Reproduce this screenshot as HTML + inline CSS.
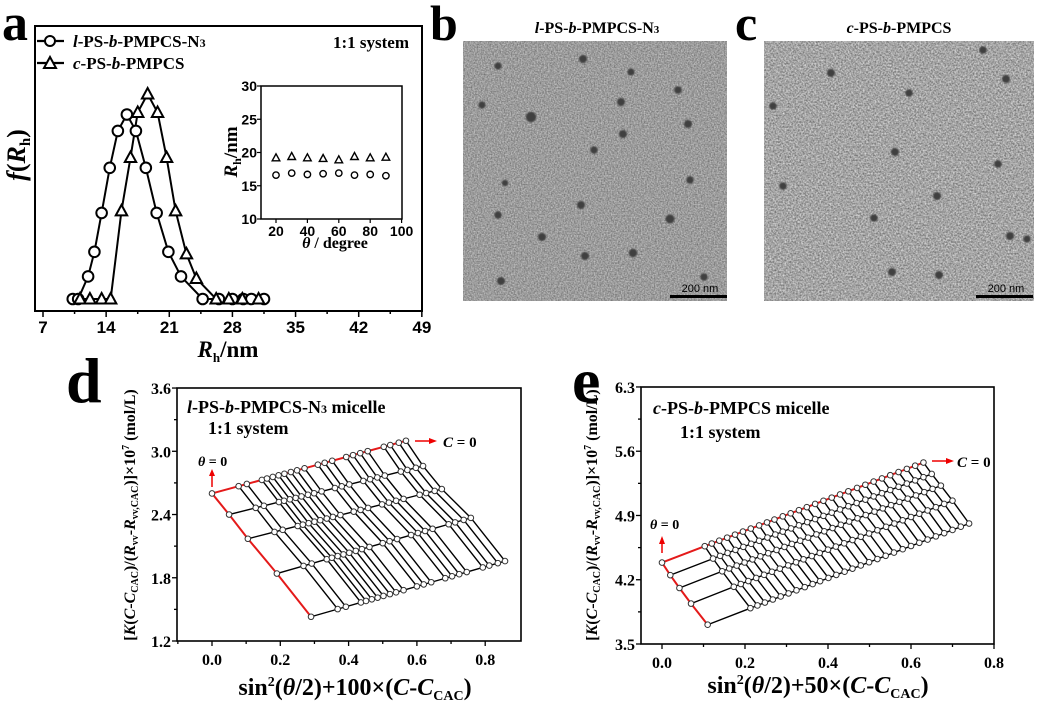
<!DOCTYPE html>
<html><head><meta charset="utf-8"><style>
html,body{margin:0;padding:0;background:#fff;}
svg{display:block;font-family:"Liberation Serif",serif;}
.sans{font-family:"Liberation Sans",sans-serif;}
</style></head><body>
<svg id="fig" width="1040" height="706" viewBox="0 0 1040 706" xmlns="http://www.w3.org/2000/svg">
<defs>
<filter id="noise" x="0" y="0" width="100%" height="100%" color-interpolation-filters="sRGB">
<feTurbulence type="fractalNoise" baseFrequency="0.7" numOctaves="2" seed="3"/>
<feColorMatrix type="matrix" values="0.5 0 0 0 0.36  0.5 0 0 0 0.36  0.5 0 0 0 0.36  0 0 0 0 1"/>
</filter>
<filter id="noise2" x="0" y="0" width="100%" height="100%" color-interpolation-filters="sRGB">
<feTurbulence type="fractalNoise" baseFrequency="0.6" numOctaves="2" seed="7"/>
<feColorMatrix type="matrix" values="0.65 0 0 0 0.32  0.65 0 0 0 0.32  0.65 0 0 0 0.32  0 0 0 0 1"/>
</filter>
<filter id="soft"><feGaussianBlur stdDeviation="0.7"/></filter>
</defs>

<!-- Panel a static -->
<text x="2" y="40" font-size="52" font-weight="bold">a</text>
<rect x="35" y="26" width="387" height="285" fill="none" stroke="#000" stroke-width="2"/>
<g>
<line x1="37" y1="41" x2="64" y2="41" stroke="#000" stroke-width="2.2"/>
<circle cx="50" cy="41" r="5" fill="#fff" stroke="#000" stroke-width="2"/>
<text x="73" y="47" font-size="17" font-weight="bold"><tspan font-style="italic">l</tspan>-PS-<tspan font-style="italic">b</tspan>-PMPCS-N<tspan font-size="12">3</tspan></text>
<line x1="37" y1="63" x2="64" y2="63" stroke="#000" stroke-width="2.2"/>
<path d="M50 57 L56 68 L44 68 Z" fill="#fff" stroke="#000" stroke-width="2"/>
<text x="73" y="69" font-size="17" font-weight="bold"><tspan font-style="italic">c</tspan>-PS-<tspan font-style="italic">b</tspan>-PMPCS</text>
</g>
<text x="409" y="48" text-anchor="end" font-size="17" font-weight="bold">1:1 system</text>
<text transform="translate(25,155) rotate(-90)" text-anchor="middle" font-size="26" font-weight="bold"><tspan font-style="italic">f</tspan>(<tspan font-style="italic">R</tspan><tspan font-size="15" dy="5">h</tspan><tspan dy="-5">)</tspan></text>
<text x="228" y="357" text-anchor="middle" font-size="23" font-weight="bold"><tspan font-style="italic">R</tspan><tspan font-size="13" dy="5">h</tspan><tspan dy="-5">/nm</tspan></text>
<rect x="261" y="86" width="141" height="133" fill="#fff" stroke="#000" stroke-width="1.5"/>
<text transform="translate(237,152) rotate(-90)" text-anchor="middle" font-size="19" font-weight="bold"><tspan font-style="italic">R</tspan><tspan font-size="12" dy="4">h</tspan><tspan dy="-4">/nm</tspan></text>
<text x="335" y="248" text-anchor="middle" font-size="16" font-weight="bold"><tspan font-style="italic">θ</tspan> / degree</text>
<g id="pa"></g>

<!-- Panels b, c -->
<text x="430" y="40" font-size="50" font-weight="bold">b</text>
<text x="735" y="40" font-size="50" font-weight="bold">c</text>
<text x="597" y="33" text-anchor="middle" font-size="16" font-weight="bold"><tspan font-style="italic">l</tspan>-PS-<tspan font-style="italic">b</tspan>-PMPCS-N<tspan font-size="11">3</tspan></text>
<text x="899" y="33" text-anchor="middle" font-size="16" font-weight="bold"><tspan font-style="italic">c</tspan>-PS-<tspan font-style="italic">b</tspan>-PMPCS</text>
<rect x="463" y="41" width="264" height="260" filter="url(#noise)"/>
<rect x="764" y="41" width="270" height="260" filter="url(#noise2)"/>
<g id="pb" filter="url(#soft)"></g>
<g id="pc" filter="url(#soft)"></g>
<rect x="670" y="295" width="57" height="3" fill="#000"/>
<text x="700" y="292" text-anchor="middle" class="sans" font-size="11">200 nm</text>
<rect x="976" y="295" width="57" height="3" fill="#000"/>
<text x="1006" y="292" text-anchor="middle" class="sans" font-size="11">200 nm</text>

<!-- Panel d -->
<text x="66" y="402" font-size="64" font-weight="bold">d</text>
<rect x="177" y="388" width="344" height="253" fill="none" stroke="#000" stroke-width="1.6"/>
<text x="187" y="413" font-size="18" font-weight="bold"><tspan font-style="italic">l</tspan>-PS-<tspan font-style="italic">b</tspan>-PMPCS-N<tspan font-size="12">3</tspan> micelle</text>
<text x="208" y="434" font-size="18" font-weight="bold">1:1 system</text>
<text transform="translate(135,515) rotate(-90)" text-anchor="middle" font-size="16" font-weight="bold">[<tspan font-style="italic">K</tspan>(<tspan font-style="italic">C</tspan>-<tspan font-style="italic">C</tspan><tspan font-size="10" dy="3">CAC</tspan><tspan dy="-3">)/(</tspan><tspan font-style="italic">R</tspan><tspan font-size="10" dy="3">vv</tspan><tspan dy="-3">-</tspan><tspan font-style="italic">R</tspan><tspan font-size="10" dy="3">vv,CAC</tspan><tspan dy="-3">)]×10</tspan><tspan font-size="10" dy="-6">7</tspan><tspan dy="6"> (mol/L)</tspan></text>
<text x="355" y="695" text-anchor="middle" font-size="24" font-weight="bold">sin<tspan font-size="14" dy="-9">2</tspan><tspan dy="9">(</tspan><tspan font-style="italic">θ</tspan>/2)+100×(<tspan font-style="italic">C</tspan>-<tspan font-style="italic">C</tspan><tspan font-size="14" dy="5">CAC</tspan><tspan dy="-5">)</tspan></text>
<g id="pd"></g>
<g>
<text x="198" y="466" font-size="14" font-weight="bold" font-style="italic">θ <tspan font-style="normal">= 0</tspan></text>
<line x1="212" y1="487" x2="212" y2="475" stroke="#e00" stroke-width="1.5"/><path d="M209 476 L212 469 L215 476 Z" fill="#e00"/>
<line x1="415" y1="441" x2="430" y2="441" stroke="#e00" stroke-width="1.5"/><path d="M429 438 L437 441 L429 444 Z" fill="#e00"/>
<text x="443" y="447" font-size="15" font-weight="bold"><tspan font-style="italic">C</tspan> = 0</text>
</g>

<!-- Panel e -->
<text x="572" y="402" font-size="64" font-weight="bold">e</text>
<rect x="641" y="387" width="353" height="257" fill="none" stroke="#000" stroke-width="1.6"/>
<text x="653" y="414" font-size="18" font-weight="bold"><tspan font-style="italic">c</tspan>-PS-<tspan font-style="italic">b</tspan>-PMPCS micelle</text>
<text x="680" y="438" font-size="18" font-weight="bold">1:1 system</text>
<text transform="translate(597,515) rotate(-90)" text-anchor="middle" font-size="16" font-weight="bold">[<tspan font-style="italic">K</tspan>(<tspan font-style="italic">C</tspan>-<tspan font-style="italic">C</tspan><tspan font-size="10" dy="3">CAC</tspan><tspan dy="-3">)/(</tspan><tspan font-style="italic">R</tspan><tspan font-size="10" dy="3">vv</tspan><tspan dy="-3">-</tspan><tspan font-style="italic">R</tspan><tspan font-size="10" dy="3">vv,CAC</tspan><tspan dy="-3">)]×10</tspan><tspan font-size="10" dy="-6">7</tspan><tspan dy="6"> (mol/L)</tspan></text>
<text x="818" y="693" text-anchor="middle" font-size="24" font-weight="bold">sin<tspan font-size="14" dy="-9">2</tspan><tspan dy="9">(</tspan><tspan font-style="italic">θ</tspan>/2)+50×(<tspan font-style="italic">C</tspan>-<tspan font-style="italic">C</tspan><tspan font-size="14" dy="5">CAC</tspan><tspan dy="-5">)</tspan></text>
<g id="pe"></g>
<g>
<text x="650" y="529" font-size="14" font-weight="bold" font-style="italic">θ <tspan font-style="normal">= 0</tspan></text>
<line x1="662" y1="553" x2="662" y2="543" stroke="#e00" stroke-width="1.5"/><path d="M659 544 L662 536 L665 544 Z" fill="#e00"/>
<line x1="932" y1="461" x2="947" y2="461" stroke="#e00" stroke-width="1.5"/><path d="M946 458 L954 461 L946 464 Z" fill="#e00"/>
<text x="957" y="467" font-size="15" font-weight="bold"><tspan font-style="italic">C</tspan> = 0</text>
</g>
</svg>
<script>
// ---- Panel a data ----
const aCircleX = [10.3,10.9,12.0,12.7,13.5,14.4,15.3,16.3,17.3,18.4,19.6,20.9,22.3,24.7,26.5,28.0,29.2,30.1,31.5];
const aCircleF = [0,0,0.11,0.23,0.42,0.64,0.82,0.90,0.82,0.64,0.42,0.23,0.11,0,0,0,0,0,0];
const aTriX = [11.1,12.2,13.5,14.5,15.7,16.7,17.5,18.6,19.7,20.7,21.7,22.9,24.0,26.2,27.6,29.1,30.9];
const aTriF = [0,0,0,0,0.43,0.69,0.91,1.0,0.91,0.69,0.43,0.22,0.10,0,0,0,0];
const aXTicks = [7,14,21,28,35,42,49];
const insetAngles = [20,30,40,50,60,70,80,90];
const insetTri = [19.2,19.4,19.2,19.1,18.9,19.4,19.2,19.3];
const insetCirc = [16.6,16.9,16.7,16.8,16.9,16.6,16.7,16.5];
const insetXTicks = [20,40,60,80,100];
const insetYTicks = [10,15,20,25,30];
// ---- TEM particle positions ----
const temB = [[498,66],[583,59],[631,72],[678,90],[482,105],[621,102],[531,117],[688,124],[623,134],[594,150],[505,183],[690,180],[581,205],[498,215],[670,219],[542,237],[585,256],[633,253],[501,281],[704,277]];
const temBr = [3.6,4,3.6,3.8,3.6,4,5.2,4,4,3.7,3.2,3.7,4,3.7,4.5,4,4,4.2,4,3.8];
const temC = [[983,50],[831,73],[1006,79],[909,93],[773,106],[895,152],[998,164],[783,186],[937,196],[874,218],[1010,236],[1027,239],[892,272],[939,275]];
const temCr = [3.8,4,4,3.8,3.8,4,3.8,3.8,4,3.8,4,3.6,4,4];
// ---- Panel d data (Zimm plot) ----
const dSinSq = [0.078,0.102,0.146,0.161,0.178,0.195,0.212,0.231,0.249,0.271,0.310,0.330,0.352,0.393,0.413,0.434,0.456,0.503,0.522,0.547,0.568];
const dConcX = [0,0.05,0.105,0.19,0.29];
const dIntercept = [2.6,2.4,2.17,1.84,1.43];
const dSlope = [0.88,0.81,0.83,0.93,0.93];
const dXTicks = [0.0,0.2,0.4,0.6,0.8];
const dYTicks = [1.2,1.8,2.4,3.0,3.6];
// ---- Panel e data ----
const eSinSq = [0.103,0.120,0.138,0.157,0.176,0.195,0.214,0.234,0.253,0.271,0.291,0.310,0.330,0.349,0.369,0.389,0.409,0.429,0.449,0.470,0.490,0.510,0.530,0.550,0.570,0.590,0.610,0.630];
const eConcX = [0,0.02,0.042,0.07,0.11];
const eIntercept = [4.387,4.25,4.11,3.94,3.71];
const eSlope = [1.73,1.75,1.77,1.78,1.75];
const eXTicks = [0.0,0.2,0.4,0.6,0.8];
const eYTicks = [3.5,4.2,4.9,5.6,6.3];

const NS = "http://www.w3.org/2000/svg";
function mk(parent, tag, attrs, text){
  const e = document.createElementNS(NS, tag);
  for (const k in attrs) e.setAttribute(k, attrs[k]);
  if (text !== undefined) e.textContent = text;
  parent.appendChild(e); return e;
}
function tri(cx, cy, s){ return `M${cx} ${cy-s} L${cx+s*0.95} ${cy+s*0.75} L${cx-s*0.95} ${cy+s*0.75} Z`; }

// Panel a
const pa = document.getElementById('pa');
const ax = v => 43 + (v-7)*9.02, ay = f => 299 - f*205;
for (let v=7; v<=49; v+=3.5){
  const t = mk(pa,'line',{x1:ax(v),y1:311,x2:ax(v),y2:aXTicks.includes(v)?317:314,stroke:'#000','stroke-width':1.5});
  
  
}
aXTicks.forEach(v=>{
  const t = mk(pa,'text',{x:ax(v),y:333,'text-anchor':'middle','font-size':17,'font-weight':'bold',class:'sans'},String(v));
  
  
});
const lc = mk(pa,'polyline',{points:aCircleX.map((x,i)=>ax(x)+','+ay(aCircleF[i])).join(' '),fill:'none',stroke:'#000','stroke-width':2});


const lt = mk(pa,'polyline',{points:aTriX.map((x,i)=>ax(x)+','+ay(aTriF[i])).join(' '),fill:'none',stroke:'#000','stroke-width':2});


aCircleX.forEach((x,i)=>{
  const c = mk(pa,'circle',{cx:ax(x),cy:ay(aCircleF[i]),r:5.3,fill:'#fff',stroke:'#000','stroke-width':2});
  
  
});
aTriX.forEach((x,i)=>{
  const p = mk(pa,'path',{d:tri(ax(x),ay(aTriF[i]),6),fill:'#fff',stroke:'#000','stroke-width':2});
  
  
});
// inset
const ix = v => 276 + (v-20)*1.57, iy = v => 219 - (v-10)*6.65;
insetXTicks.forEach(v=>{
  const t = mk(pa,'text',{x:ix(v),y:236,'text-anchor':'middle','font-size':14,'font-weight':'bold',class:'sans'},String(v));
  
  
  const l = mk(pa,'line',{x1:ix(v),y1:219,x2:ix(v),y2:223,stroke:'#000','stroke-width':1.2});
  
  
});
insetYTicks.forEach(v=>{
  const t = mk(pa,'text',{x:257,y:iy(v)+5,'text-anchor':'end','font-size':14,'font-weight':'bold',class:'sans'},String(v));
  
  
  const l = mk(pa,'line',{x1:257,y1:iy(v),x2:261,y2:iy(v),stroke:'#000','stroke-width':1.2});
  
  
});
insetAngles.forEach((a,i)=>{
  const p = mk(pa,'path',{d:tri(ix(a),iy(insetTri[i]),4),fill:'#fff',stroke:'#000','stroke-width':1.4});
  
  
  const c = mk(pa,'circle',{cx:ix(a),cy:iy(insetCirc[i]),r:3.2,fill:'#fff',stroke:'#000','stroke-width':1.4});
  
  
});

// TEM particles
function particles(id, list, radii){
  const g = document.getElementById(id);
  list.forEach((p,i)=>{
    const c = mk(g,'circle',{cx:p[0],cy:p[1],r:radii[i],fill:'#404040'});
    
    
  });
}
particles('pb', temB, temBr);
particles('pc', temC, temCr);

// Zimm plots
function zimm(id, sinSq, concX, inter, slope, xs, ys, xTicks, yTicks, box, xDec){
  const g = document.getElementById(id);
  const step = xTicks[1]-xTicks[0];
  for (let v = xTicks[0]-step/2; v <= xTicks[xTicks.length-1]+1e-9; v += step/2){
    const major = xTicks.some(t=>Math.abs(t-v)<1e-6);
    if (xs(v) < box.l-0.5) continue;
    const l = mk(g,'line',{x1:xs(v),y1:box.b,x2:xs(v),y2:box.b+(major?5:3),stroke:'#000','stroke-width':1.3});
    
    
  }
  xTicks.forEach(v=>{
    const t = mk(g,'text',{x:xs(v),y:box.b+24,'text-anchor':'middle','font-size':16,'font-weight':'bold'},v.toFixed(xDec));
    
    
  });
  const ystep = yTicks[1]-yTicks[0];
  for (let v = yTicks[0]; v <= yTicks[yTicks.length-1]+1e-9; v += ystep/2){
    const major = yTicks.some(t=>Math.abs(t-v)<1e-6);
    const l = mk(g,'line',{x1:box.l-(major?5:3),y1:ys(v),x2:box.l,y2:ys(v),stroke:'#000','stroke-width':1.3});
    
    
  }
  yTicks.forEach(v=>{
    const t = mk(g,'text',{x:box.l-6,y:ys(v)+6,'text-anchor':'end','font-size':16,'font-weight':'bold'},v.toFixed(1));
    
    
  });
  const angles = [0].concat(sinSq);
  const pt = (c,a)=>[xs(a+concX[c]), ys(inter[c]+slope[c]*a)];
  angles.forEach((a,ai)=>{
    const l = mk(g,'polyline',{points:concX.map((_,c)=>pt(c,a).join(',')).join(' '),fill:'none',stroke:ai===0?'#e41a1a':'#000','stroke-width':ai===0?2:1.4});
    
    
  });
  concX.forEach((_,c)=>{
    const l = mk(g,'polyline',{points:angles.map(a=>pt(c,a).join(',')).join(' '),fill:'none',stroke:c===0?'#e41a1a':'#000','stroke-width':c===0?2:1.4});
    
    
  });
  concX.forEach((_,c)=>{
    angles.forEach(a=>{
      const p = pt(c,a);
      const m = mk(g,'circle',{cx:p[0],cy:p[1],r:2.8,fill:'#fff',stroke:'#333','stroke-width':1});
      
      
    });
  });
}
zimm('pd', dSinSq, dConcX, dIntercept, dSlope, v=>212+v*341.5, v=>641-(v-1.2)*105.4, dXTicks, dYTicks, {l:177,b:641}, 1);
zimm('pe', eSinSq, eConcX, eIntercept, eSlope, v=>662+v*415, v=>644-(v-3.5)*91.8, eXTicks, eYTicks, {l:641,b:644}, 1);
</script>
</body></html>
